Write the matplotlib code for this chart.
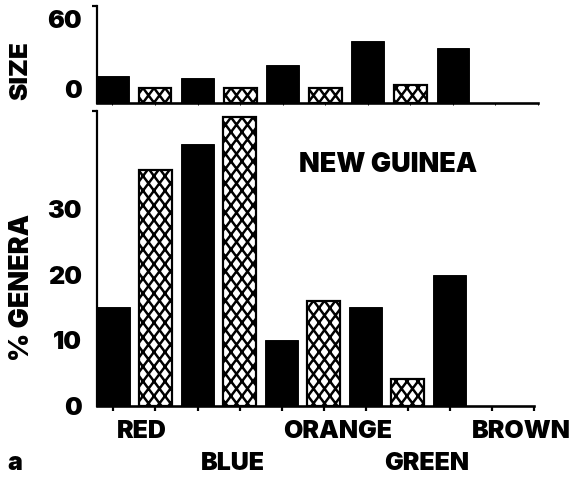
import matplotlib
matplotlib.use("Agg")
import matplotlib.pyplot as plt
from matplotlib import hatch as mhatch
from matplotlib.path import Path
import numpy as np

# ---- data -------------------------------------------------------------
colors = ["RED", "BLUE", "ORANGE", "GREEN", "BROWN"]
genera_solid = [15, 40, 10, 15, 20]      # % genera, solid bars
genera_hatched = [36, 44, 16, 4, 0]      # % genera, cross-hatched bars
size_solid = [23, 21, 32, 53, 47]        # size, solid bars
size_hatched = [13, 13, 13, 15, 0]       # size, cross-hatched bars
genera_ticks = [0, 10, 20, 30]
size_ticks = [0, 60]
region_title = "NEW GUINEA"
panel_letter = "a"

# ---- style ------------------------------------------------------------
DPI = 132
W, H = 574, 483
plt.rcParams["font.family"] = ["Inter", "DejaVu Sans"]
plt.rcParams["hatch.linewidth"] = 1.35
plt.rcParams["hatch.color"] = "black"
HEAVY = 900


class SteepCrossHatch(mhatch.HatchPatternBase):
    """Cross hatch whose diamonds are taller than they are wide."""
    N = 12   # line repeats across one hatch tile (width of a diamond = 1/N)
    M = 9    # vertical repeats per tile (height of a diamond = 1/M)

    def __init__(self, hatch, density):
        self.active = "x" in hatch
        self.lines = [(i, s) for s in (1, -1)
                      for i in range(-self.M - 1, self.N + self.M + 2)]
        self.num_vertices = 2 * len(self.lines) if self.active else 0

    def set_vertices_and_codes(self, vertices, codes):
        k = 0
        for i, s in self.lines:
            x0 = i / self.N
            vertices[k] = (x0, 0.0)
            vertices[k + 1] = (x0 + s * self.M / self.N, 1.0)
            k += 2
        codes[0::2] = Path.MOVETO
        codes[1::2] = Path.LINETO


mhatch._hatch_types[:] = [t for t in mhatch._hatch_types
                          if t not in (mhatch.NorthEastHatch, mhatch.SouthEastHatch)]
mhatch._hatch_types.append(SteepCrossHatch)


def px2pt(p):
    return p * 72.0 / DPI

fs_tick = px2pt(25)
fs_big = px2pt(27)
LW = px2pt(2.2)

fig = plt.figure(figsize=(W / DPI, H / DPI), dpi=DPI)

def frac_box(left, right, top, bottom):
    return [left / W, 1 - bottom / H, (right - left) / W, (bottom - top) / H]

ax_top = fig.add_axes(frac_box(97, 538, 6, 102.7))
ax_bot = fig.add_axes(frac_box(97, 534, 110.9, 405.7))

def interleave(a, b):
    out = []
    for x, y in zip(a, b):
        out += [x, y]
    return out

def draw_bars(ax, solid, hatched, width):
    vals = interleave(solid, hatched)
    pos = np.arange(len(vals))
    for i, v in enumerate(vals):
        if i % 2 == 0:
            ax.bar(pos[i], v, width=width, color="black", edgecolor="black",
                   linewidth=0.5, zorder=2)
        elif v > 0:
            ax.bar(pos[i], v, width=width, facecolor="white", edgecolor="black",
                   hatch="x", linewidth=LW, zorder=2)
    return pos

def style_axis(ax, ymax, yticks, xlim):
    for s in ("top", "right"):
        ax.spines[s].set_visible(False)
    ax.spines["left"].set_linewidth(LW)
    ax.spines["bottom"].set_linewidth(px2pt(2.6))
    ax.set_ylim(0, ymax)
    ax.set_xlim(*xlim)
    ax.set_yticks(yticks)
    ax.set_yticklabels([str(t) for t in yticks], fontsize=fs_tick, fontweight=HEAVY)
    ax.tick_params(axis="y", length=0, pad=px2pt(15))
    # small hook at the top end of the vertical axis
    ax.set_yticks([ymax], minor=True)
    ax.tick_params(axis="y", which="minor", length=px2pt(5), width=LW, direction="out")

# ---- upper panel: size ------------------------------------------------
pos_t = draw_bars(ax_top, size_solid, size_hatched, 0.77)
style_axis(ax_top, 83, size_ticks, (-0.364, 9.67))
for lab in ax_top.get_yticklabels():
    lab.set_verticalalignment("bottom")
ax_top.set_xticks(pos_t.tolist() + [len(pos_t)])
ax_top.set_xticklabels([])
ax_top.tick_params(axis="x", length=px2pt(2), width=px2pt(1), direction="out")
ax_top.text((21 - 97) / 441, (102.7 - 71) / 96.7, "SIZE",
            transform=ax_top.transAxes, rotation=90, ha="center", va="center",
            fontsize=px2pt(26), fontweight=HEAVY)

# ---- lower panel: % genera --------------------------------------------
pos_b = draw_bars(ax_bot, genera_solid, genera_hatched, 0.78)
style_axis(ax_bot, 45, genera_ticks, (-0.39, 9.39))
ax_bot.set_xticks(pos_b.tolist() + [len(pos_b)])
ax_bot.set_xticklabels([])
ax_bot.tick_params(axis="x", length=px2pt(5), width=LW, direction="out")

ax_bot.text((22 - 97) / 437, (405.7 - 287) / 294.8, "% GENERA",
            transform=ax_bot.transAxes, rotation=90, ha="center", va="center",
            fontsize=fs_big, fontweight=HEAVY)
ax_bot.text((388 - 97) / 437, (405.7 - 165) / 294.8, region_title,
            transform=ax_bot.transAxes, ha="center", va="center",
            fontsize=fs_big, fontweight=HEAVY)

# staggered category names under the axis (centre x, centre y in pixels)
label_xy = [(142, 431), (233, 463), (338, 431), (427, 463), (521, 431)]
for name, (cx, cy) in zip(colors, label_xy):
    ax_bot.text((cx - 97) / 437, (405.7 - cy) / 294.8, name,
                transform=ax_bot.transAxes, ha="center", va="center",
                fontsize=fs_tick, fontweight=HEAVY, clip_on=False)

fig.text(15 / W, 1 - 464 / H, panel_letter, ha="center", va="center",
         fontsize=fs_tick, fontweight=HEAVY)

fig.savefig("out.png", dpi=DPI)
